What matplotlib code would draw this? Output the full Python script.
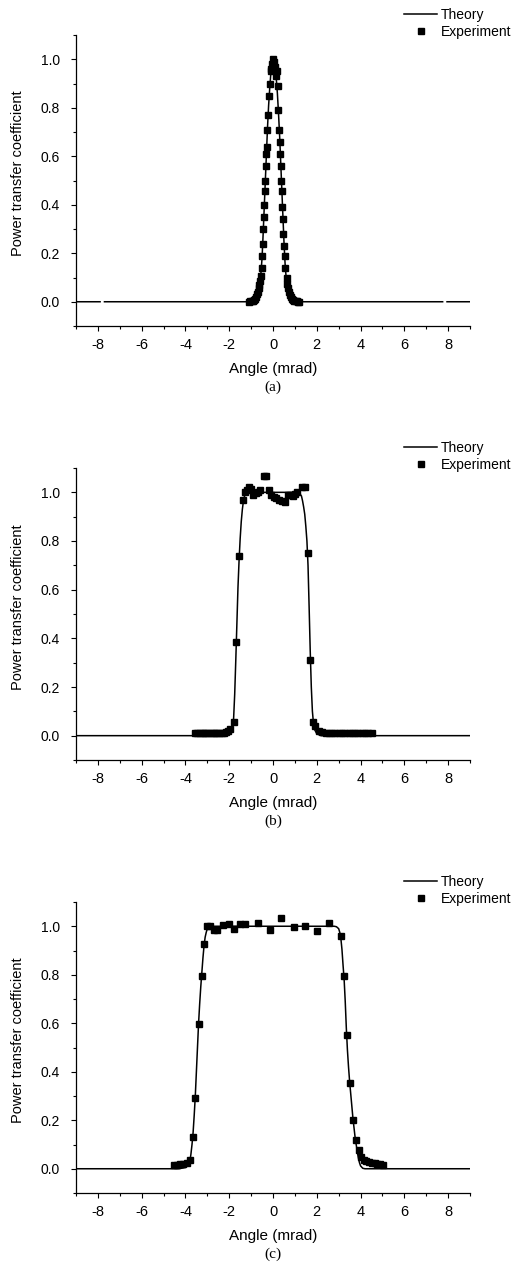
import matplotlib
matplotlib.use("Agg")
import numpy as np
import matplotlib.pyplot as plt
from matplotlib.ticker import MultipleLocator

plt.rcParams["font.family"] = ["Liberation Sans", "DejaVu Sans"]
plt.rcParams["axes.unicode_minus"] = False

nan = float("nan")

# ---- panel (a): narrow peak ----
theory_a_x = [-9, -7.9, nan, -7.7, -1.2, -1.0, -0.9, -0.8, -0.7, -0.6, -0.55, -0.5, -0.45, -0.4,
              -0.35, -0.3, -0.25, -0.2, -0.15, -0.1, -0.05, 0.0, 0.05, 0.1, 0.15, 0.2,
              0.25, 0.3, 0.35, 0.4, 0.45, 0.5, 0.55, 0.6, 0.65, 0.7, 0.8, 0.9, 1.0,
              1.2, 7.75, nan, 7.95, 9]
theory_a_y = [0, 0, nan, 0, 0, 0.002, 0.005, 0.013, 0.035, 0.08, 0.12, 0.18, 0.28, 0.39,
              0.50, 0.61, 0.72, 0.81, 0.88, 0.94, 0.98, 1.0, 0.99, 0.96, 0.92, 0.86,
              0.78, 0.69, 0.58, 0.47, 0.36, 0.25, 0.16, 0.1, 0.06, 0.035, 0.013, 0.005, 0.002,
              0, 0, nan, 0, 0]

exp_a_x = [-1.08, -1.03, -0.98, -0.93, -0.88, -0.83, -0.78, -0.74, -0.70, -0.66, -0.63, -0.60,
           -0.56, -0.52, -0.49, -0.47, -0.44, -0.43, -0.40, -0.38, -0.35, -0.32, -0.31,
           -0.27, -0.26, -0.21, -0.17, -0.14, -0.11, -0.08, -0.05, 0.0, 0.03, 0.07, 0.12,
           0.17, 0.21, 0.24, 0.27, 0.31, 0.32, 0.35, 0.38, 0.40, 0.43, 0.44, 0.47, 0.50,
           0.53, 0.56, 0.62, 0.66, 0.70, 0.74, 0.78, 0.83, 0.88, 0.93, 0.98, 1.03, 1.08, 1.13, 1.2]
exp_a_y = [0.001, 0.002, 0.003, 0.005, 0.008, 0.013, 0.02, 0.03, 0.04, 0.055, 0.07, 0.085,
           0.105, 0.14, 0.19, 0.24, 0.30, 0.35, 0.40, 0.455, 0.50, 0.56, 0.61,
           0.64, 0.71, 0.77, 0.85, 0.90, 0.95, 0.96, 0.98, 1.0, 0.99, 0.97, 0.93,
           0.95, 0.89, 0.79, 0.71, 0.66, 0.61, 0.56, 0.50, 0.455, 0.39, 0.34, 0.28, 0.23,
           0.19, 0.14, 0.098, 0.075, 0.055, 0.04, 0.028, 0.018, 0.012, 0.008, 0.005, 0.003, 0.002, 0.001, 0.0]

# ---- panel (b): flat top ~3.3 mrad wide ----
theory_b_x = [-9, -2.2, -2.0, -1.9, -1.85, -1.8, -1.75, -1.7, -1.65, -1.6, -1.55, -1.5, -1.45,
              -1.4, -1.35, -1.3, -1.2, -1.1, 1.1, 1.2, 1.3, 1.35, 1.4, 1.45, 1.5, 1.55,
              1.6, 1.65, 1.7, 1.75, 1.8, 1.85, 1.9, 2.0, 2.2, 9]
theory_b_y = [0, 0, 0.008, 0.025, 0.045, 0.07, 0.17, 0.31, 0.46, 0.61, 0.72, 0.81, 0.88,
              0.93, 0.965, 0.985, 0.998, 1.0, 1.0, 0.997, 0.985, 0.965, 0.94, 0.91, 0.86, 0.80,
              0.70, 0.53, 0.35, 0.2, 0.1, 0.05, 0.025, 0.008, 0, 0]

exp_b_x = [-3.55, -3.45, -3.35, -3.25, -3.15, -3.05, -2.95, -2.85, -2.75, -2.65, -2.55, -2.45,
           -2.35, -2.25, -2.15, -2.05, -1.95, -1.80, -1.68, -1.54, -1.37, -1.30, -1.20, -1.11,
           -1.0, -0.9, -0.76, -0.68, -0.58, -0.40, -0.30, -0.20, -0.1, 0.03, 0.15, 0.26, 0.4,
           0.56, 0.7, 0.79, 0.9, 1.0, 1.10, 1.33, 1.48, 1.59, 1.71, 1.83, 1.94, 2.09, 2.24,
           2.4, 2.55, 2.7, 2.85, 3.0, 3.15, 3.3, 3.45, 3.6, 3.75, 3.9, 4.05, 4.2, 4.35, 4.5]
exp_b_y = [0.012, 0.012, 0.012, 0.012, 0.012, 0.012, 0.012, 0.012, 0.012, 0.012, 0.012, 0.012,
           0.012, 0.013, 0.015, 0.02, 0.028, 0.058, 0.385, 0.739, 0.97, 1.0, 1.01, 1.02,
           1.015, 0.99, 0.997, 1.0, 1.011, 1.069, 1.069, 1.008, 0.99, 0.98, 0.975, 0.97, 0.965,
           0.96, 0.99, 0.99, 0.985, 0.995, 1.0, 1.022, 1.022, 0.752, 0.31, 0.058, 0.04, 0.02, 0.014,
           0.012, 0.012, 0.012, 0.012, 0.012, 0.012, 0.012, 0.012, 0.012, 0.012, 0.012, 0.012, 0.012, 0.012, 0.012]

# ---- panel (c): flat top ~7 mrad wide ----
theory_c_x = [-9, -4.3, -4.0, -3.9, -3.8, -3.75, -3.7, -3.65, -3.6, -3.55, -3.5, -3.45, -3.4,
              -3.35, -3.3, -3.25, -3.2, -3.15, -3.1, -3.05, -3.0, -2.9, -2.8, 2.8, 2.9, 3.0,
              3.05, 3.1, 3.15, 3.2, 3.25, 3.3, 3.35, 3.4, 3.45, 3.5, 3.55, 3.6, 3.65, 3.7,
              3.75, 3.8, 3.85, 3.9, 3.95, 4.0, 4.1, 4.2, 9]
theory_c_y = [0, 0, 0.005, 0.012, 0.03, 0.06, 0.1, 0.15, 0.22, 0.30, 0.40, 0.50, 0.60,
              0.68, 0.75, 0.81, 0.87, 0.92, 0.955, 0.975, 0.99, 0.998, 1.0, 1.0, 0.998, 0.99,
              0.975, 0.95, 0.905, 0.84, 0.78, 0.69, 0.58, 0.49, 0.42, 0.36, 0.31, 0.26, 0.21, 0.17,
              0.13, 0.1, 0.07, 0.045, 0.025, 0.012, 0.002, 0, 0]

exp_c_x = [-4.54, -4.39, -4.24, -4.09, -3.93, -3.78, -3.67, -3.55, -3.40, -3.25, -3.13, -3.02,
           -2.87, -2.71, -2.56, -2.30, -2.03, -1.77, -1.52, -1.27, -0.70, -0.15, 0.38, 0.95,
           1.48, 2.01, 2.55, 3.09, 3.23, 3.36, 3.51, 3.66, 3.80, 3.92, 4.04, 4.15, 4.25,
           4.38, 4.53, 4.65, 4.76, 4.9, 5.03]
exp_c_y = [0.014, 0.014, 0.018, 0.02, 0.023, 0.037, 0.13, 0.293, 0.598, 0.794, 0.928, 1.003,
           1.003, 0.986, 0.986, 1.004, 1.008, 0.99, 1.008, 1.008, 1.014, 0.983, 1.032, 0.997,
           1.0, 0.979, 1.014, 0.959, 0.795, 0.55, 0.355, 0.202, 0.117, 0.076, 0.048, 0.035, 0.031,
           0.028, 0.024, 0.022, 0.021, 0.019, 0.017]

panels = [
    ("(a)", theory_a_x, theory_a_y, exp_a_x, exp_a_y),
    ("(b)", theory_b_x, theory_b_y, exp_b_x, exp_b_y),
    ("(c)", theory_c_x, theory_c_y, exp_c_x, exp_c_y),
]

W, H = 516, 1268
fig = plt.figure(figsize=(W / 100, H / 100), dpi=100)

# axes boxes in pixels: (top, bottom)
boxes = [(35, 326), (468, 760), (902, 1193)]
left_px, right_px = 76, 470

for (tag, tx, ty, ex, ey), (top, bot) in zip(panels, boxes):
    ax = fig.add_axes([left_px / W, 1 - bot / H, (right_px - left_px) / W, (bot - top) / H])
    ax.plot(tx, ty, color="black", lw=1.1, label="Theory")
    ax.plot(ex, ey, "s", color="black", ms=5, label="Experiment", zorder=3)

    ax.set_xlim(-9, 9)
    ax.set_ylim(-0.1, 1.1)
    ax.xaxis.set_major_locator(MultipleLocator(2))
    ax.xaxis.set_minor_locator(MultipleLocator(1))
    ax.yaxis.set_major_locator(MultipleLocator(0.2))
    ax.yaxis.set_minor_locator(MultipleLocator(0.1))
    ax.spines["top"].set_visible(False)
    ax.spines["right"].set_visible(False)
    for s in ("left", "bottom"):
        ax.spines[s].set_linewidth(0.9)
    ax.tick_params(which="both", direction="out", width=0.8)
    ax.tick_params(which="major", length=3.5)
    ax.tick_params(which="minor", length=2.5)
    ax.tick_params(axis="x", labelsize=10.5, pad=5)
    ax.tick_params(axis="y", labelsize=10, pad=8)
    ax.set_ylabel("Power transfer coefficient", fontsize=10.5, va="center")
    ax.yaxis.set_label_coords(-0.147, 0.525)
    ax.set_xlabel("Angle (mrad)", fontsize=11, labelpad=7.5)

    ax.legend(loc="upper left", bbox_to_anchor=(0.8325, 1.093), frameon=False,
              fontsize=10, handlelength=2.38, handletextpad=0.3, labelspacing=0.2,
              borderpad=0, borderaxespad=0)

    fig.text(273 / W, 1 - (bot + 61) / H, tag, ha="center", va="center",
             fontsize=11, family=["Liberation Serif", "DejaVu Serif"])

fig.savefig("out.png", dpi=100)
